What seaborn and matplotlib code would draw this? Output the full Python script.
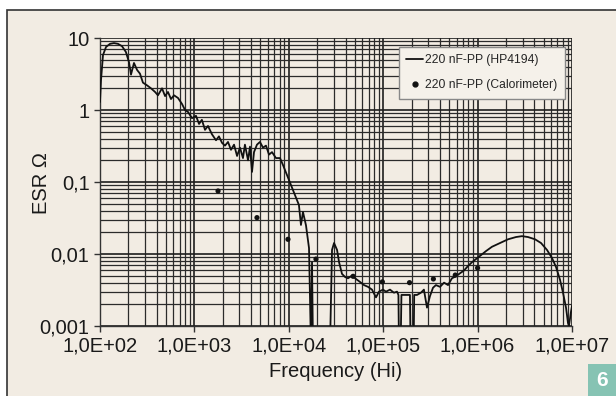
import numpy as np
import pandas as pd
import seaborn as sns
import matplotlib
matplotlib.use("Agg")
import matplotlib.pyplot as plt
from matplotlib.ticker import FixedLocator, FixedFormatter, LogLocator, NullFormatter
from matplotlib.patches import Rectangle
from matplotlib.lines import Line2D

# ---- data ----
hp_freq = [100, 102.5, 107.6, 115.8, 127.7, 140.6, 155, 171, 188, 203, 213, 229, 247, 265, 285,
           315, 347, 383, 411, 454, 489, 525, 565, 608, 670, 740, 795, 855, 944, 1040, 1120,
           1200, 1295, 1393, 1535, 1694, 1820, 1960, 2110, 2270, 2440, 2630, 2830, 3040, 3270,
           3430, 3700, 3880, 4075, 4280, 4600, 4950, 5330, 5730, 6170, 6640, 7310, 8070, 8680,
           9570, 10550, 11630, 12800, 13450, 14130, 15210, 16370, 16790, 17180, 17620, 18040,
           18950, 27300, 28700, 30150, 32440, 34070, 36600, 39400, 42400, 46700, 51500, 56700,
           62600, 69000, 76100, 83900, 90200, 99500, 107000, 118000, 130000, 140000, 145000,
           147000, 153000, 156000, 170000, 192000, 195000, 198000, 210000, 213000, 228000,
           251000, 270000, 291000, 313000, 337000, 362000, 400000, 441000, 486000, 535000,
           590000, 651000, 718000, 791000, 873000, 962000, 1.06e6, 1.23e6, 1.42e6, 1.73e6,
           2.1e6, 2.55e6, 2.95e6, 3.42e6, 4.06e6, 4.7e6, 5.43e6, 6.14e6, 6.77e6, 7.46e6,
           8.03e6, 8.64e6, 9.07e6, 9.29e6, 9.77e6, 1e7]
hp_esr = [1.29, 2.6, 5.8, 7.5, 8.3, 8.5, 8.3, 7.7, 6.4, 4.6, 3.1, 4.5, 3.6, 3.2, 2.4,
          2.2, 2.0, 1.78, 1.6, 2.0, 1.56, 1.78, 1.42, 1.6, 1.47, 1.21, 1.0, 0.94, 0.77, 0.83, 0.64,
          0.73, 0.53, 0.6, 0.46, 0.38, 0.43, 0.35, 0.32, 0.36, 0.28, 0.33, 0.23, 0.3, 0.215,
          0.33, 0.2, 0.31, 0.138, 0.26, 0.33, 0.36, 0.3, 0.32, 0.24, 0.26, 0.215, 0.215, 0.172,
          0.125, 0.091, 0.066, 0.048, 0.0253, 0.0383, 0.025, 0.0121, 0.0023, 0.0005, 0.0077, 0.0005,
          0.0005, 0.0005, 0.0114, 0.0142, 0.0114, 0.0077, 0.0053, 0.0048, 0.0046, 0.005, 0.0045, 0.0041,
          0.0037, 0.0035, 0.0032, 0.0025, 0.003, 0.0032, 0.003, 0.0032, 0.0029, 0.003, 0.0027,
          0.0005, 0.0005, 0.0027, 0.0027, 0.0027, 0.0005, 0.0005, 0.0005, 0.0027, 0.0027,
          0.0029, 0.0032, 0.0018, 0.0026, 0.0034, 0.0037, 0.0035, 0.004, 0.0037, 0.0046,
          0.0049, 0.0054, 0.0059, 0.0068, 0.0077, 0.0085, 0.0094, 0.011, 0.0126, 0.0142,
          0.016, 0.0172, 0.0177, 0.0172, 0.016, 0.0142, 0.0114, 0.0088, 0.0066, 0.0044,
          0.0029, 0.0018, 0.0011, 0.001, 0.0016, 0.0019]

cal_freq = [1780, 4600, 9800, 19400, 48000, 98000, 190000, 340000, 580000, 1.0e6]
cal_esr = [0.075, 0.032, 0.016, 0.0085, 0.0049, 0.0041, 0.004, 0.0045, 0.0051, 0.0064]

x_ticks = [1e2, 1e3, 1e4, 1e5, 1e6, 1e7]
x_ticklabels = ["1,0E+02", "1,0E+03", "1,0E+04", "1,0E+05", "1,0E+06", "1,0E+07"]
y_ticks = [0.001, 0.01, 0.1, 1, 10]
y_ticklabels = ["0,001", "0,01", "0,1", "1", "10"]

label_hp = "220 nF-PP (HP4194)"
label_cal = "220 nF-PP (Calorimeter)"

# ---- styling ----
BG = "#f2ece3"
sns.set_theme(style="white")
plt.rcParams['font.family'] = ['Liberation Sans', 'DejaVu Sans']

fig = plt.figure(figsize=(6.16, 3.96), dpi=100, facecolor="white")
# panel frame (behind everything)
fig.patches.append(Rectangle((7/616, -0.05), 1, 1.05 - 10/396, transform=fig.transFigure,
                             facecolor=BG, edgecolor="#333333", linewidth=1.2, zorder=-10))
ax = fig.add_axes([100/616, 1 - 326/396, 472/616, 288/396])
ax.set_zorder(1)
ax.set_facecolor(BG)

df_hp = pd.DataFrame({"freq": hp_freq, "esr": hp_esr})
df_cal = pd.DataFrame({"freq": cal_freq, "esr": cal_esr})

ax.set_xscale("log")
ax.set_yscale("log")
sns.lineplot(data=df_hp, x="freq", y="esr", ax=ax, color="#111111", linewidth=1.3,
             sort=False, estimator=None, zorder=5)
sns.scatterplot(data=df_cal, x="freq", y="esr", ax=ax, color="#111111", s=14,
                edgecolor="none", zorder=6)

ax.set_xlim(1e2, 1e7)
ax.set_ylim(1e-3, 10)

ax.xaxis.set_major_locator(FixedLocator(x_ticks))
ax.xaxis.set_major_formatter(FixedFormatter(x_ticklabels))
ax.yaxis.set_major_locator(FixedLocator(y_ticks))
ax.yaxis.set_major_formatter(FixedFormatter(y_ticklabels))
ax.xaxis.set_minor_locator(LogLocator(base=10, subs=np.arange(2, 10)))
ax.yaxis.set_minor_locator(LogLocator(base=10, subs=np.arange(2, 10)))
ax.xaxis.set_minor_formatter(NullFormatter())
ax.yaxis.set_minor_formatter(NullFormatter())

ax.grid(which="major", color="#1e1e1e", linewidth=1.2)
ax.grid(which="minor", color="#2b2b2b", linewidth=0.9)
ax.set_axisbelow(True)

ax.tick_params(axis="both", which="major", labelsize=14.5, length=4, width=1, color="#333333",
               labelcolor="#1a1a1a", direction="out", bottom=True, left=True)
ax.tick_params(which="minor", length=0)
for s in ["top", "right"]:
    ax.spines[s].set_visible(False)
for s in ["left", "bottom"]:
    ax.spines[s].set_color("#333333")
    ax.spines[s].set_linewidth(1.0)

ax.set_xlabel("Frequency (Hi)", fontsize=14.5, color="#1a1a1a", labelpad=5)
ax.set_ylabel("ESR Ω", fontsize=14.5, color="#1a1a1a")
ax.yaxis.set_label_coords(-0.104, 0.497)

handles = [Line2D([], [], color="#111111", linewidth=1.3),
           Line2D([], [], color="#111111", marker="o", linestyle="none", markersize=3.5)]
leg = ax.legend(handles, [label_hp, label_cal], loc="upper right",
                bbox_to_anchor=(0.985, 0.969), fontsize=8.7, frameon=True, fancybox=False,
                handlelength=1.4, handletextpad=0.2, labelspacing=1.1, borderpad=0.6,
                borderaxespad=0)
leg.get_frame().set_facecolor("#f5f1ea")
leg.get_frame().set_edgecolor("#888888")
leg.get_frame().set_alpha(1)
leg.set_zorder(10)

# badge
fig.patches.append(Rectangle((588/616, 0), 28/616, 32/396, transform=fig.transFigure,
                             facecolor="#86c3b3", edgecolor="none", zorder=2))
fig.text(602/616, 16/396, "6", color="white", fontsize=15, fontweight="bold",
         ha="center", va="center", zorder=3)

fig.savefig("out.png", dpi=100, facecolor="white")
